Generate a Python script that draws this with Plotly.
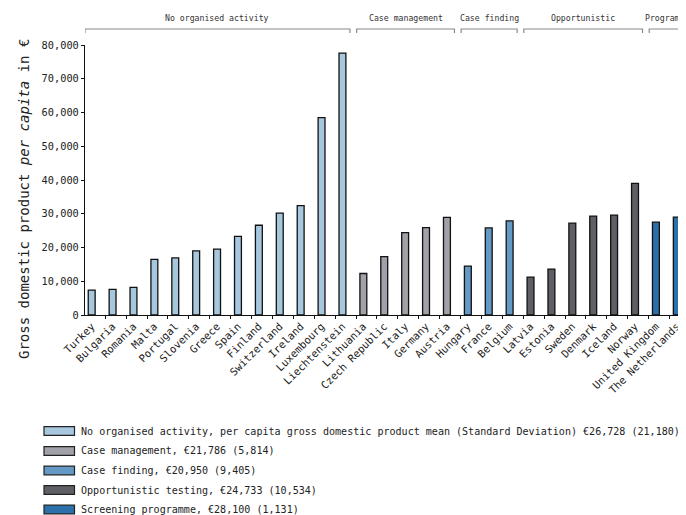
import plotly.graph_objects as go

countries = ["Turkey", "Bulgaria", "Romania", "Malta", "Portugal", "Slovenia", "Greece",
             "Spain", "Finland", "Switzerland", "Ireland", "Luxembourg", "Liechtenstein",
             "Lithuania", "Czech Republic", "Italy", "Germany", "Austria",
             "Hungary", "France", "Belgium",
             "Latvia", "Estonia", "Sweden", "Denmark", "Iceland", "Norway",
             "United Kingdom", "The Netherlands"]
gdp = [7400, 7600, 8200, 16500, 16900, 19000, 19500, 23300, 26600, 30200, 32400, 58500, 77600,
       12300, 17300, 24400, 25900, 28900,
       14500, 25800, 27900,
       11200, 13600, 27200, 29300, 29600, 39000,
       27500, 29000]
group_of = [0] * 13 + [1] * 5 + [2] * 3 + [3] * 6 + [4] * 2
group_titles = ["No organised activity", "Case management", "Case finding",
                "Opportunistic", "Programme"]
legend_labels = [
    "No organised activity, per capita gross domestic product mean (Standard Deviation) €26,728 (21,180)",
    "Case management, €21,786 (5,814)",
    "Case finding, €20,950 (9,405)",
    "Opportunistic testing, €24,733 (10,534)",
    "Screening programme, €28,100 (1,131)",
]
group_colors = ["#a7c7df", "#a1a2a9", "#6499c6", "#5e6066", "#2b70aa"]
y_ticks = [0, 10000, 20000, 30000, 40000, 50000, 60000, 70000, 80000]

MONO = "DejaVu Sans Mono"
OFF = 8  # page body margin
W, H = 686 - OFF, 515 - OFF
L, R, T = 85 - OFF, 0, 45 - OFF
B = H - (315 - OFF)
pw, ph = W - L - R, H - T - B

def px_x(p):
    # page pixel -> paper x
    return (p - OFF - L) / pw

def px_y(p):
    # page pixel -> paper y
    return (H - B - (p - OFF)) / ph

xs = list(range(len(countries)))
fig = go.Figure()
fig.add_trace(go.Bar(
    x=xs, y=gdp, width=0.33,
    marker=dict(color=[group_colors[g] for g in group_of],
                line=dict(color="#111111", width=1.3)),
    showlegend=False, hoverinfo="x+y",
))

shapes = []
annotations = []
# group brackets above the plot
for gi, title in enumerate(group_titles):
    idx = [i for i, g in enumerate(group_of) if g == gi]
    x0, x1 = idx[0] - 0.32, idx[-1] + 0.36
    shapes.append(dict(type="path", xref="x", yref="paper",
                       path=f"M {x0},{px_y(33)} L {x0},{px_y(29)} L {x1},{px_y(29)} L {x1},{px_y(33)}",
                       line=dict(color="#8a8a8a", width=1.2)))
    annotations.append(dict(x=(x0 + x1) / 2, xref="x", y=px_y(18), yref="paper",
                            text=title, showarrow=False, xanchor="center", yanchor="middle",
                            font=dict(family=MONO, size=8.2, color="#333333")))

# legend
rows = [431, 451, 470.5, 490, 509.5]
for color, label, ry in zip(group_colors, legend_labels, rows):
    shapes.append(dict(type="rect", xref="paper", yref="paper",
                       x0=px_x(44), x1=px_x(74.5), y0=px_y(ry + 4.3), y1=px_y(ry - 4.3),
                       fillcolor=color, line=dict(color="#222222", width=1.2)))
    annotations.append(dict(x=px_x(79), xref="paper", y=px_y(ry), yref="paper",
                            text=label, showarrow=False, xanchor="left", yanchor="middle",
                            font=dict(family=MONO, size=10.05, color="#222222")))

# y title
annotations.append(dict(x=px_x(24), xref="paper", y=px_y(199), yref="paper",
                        text="Gross domestic product <i>per capita</i> in €", textangle=-90,
                        showarrow=False, xanchor="center", yanchor="middle",
                        font=dict(family=MONO, size=14, color="#222222")))

fig.update_layout(
    width=W, height=H,
    margin=dict(l=L, r=R, t=T, b=B, pad=0),
    paper_bgcolor="white", plot_bgcolor="white",
    shapes=shapes, annotations=annotations,
    xaxis=dict(range=[-0.32, 28.44], tickvals=xs, ticktext=countries, tickangle=-45,
               ticks="", showgrid=False, zeroline=False,
               showline=True, linecolor="#111111", linewidth=1.3,
               tickfont=dict(family=MONO, size=10.5, color="#222222"),
               minor=dict(tick0=-0.35, dtick=1, ticks="outside", ticklen=3,
                          tickcolor="#111111", tickwidth=1, showgrid=False)),
    yaxis=dict(range=[0, 80000], tickvals=y_ticks, tickformat=",d",
               ticks="outside", ticklen=3, tickcolor="#111111", tickwidth=1,
               showgrid=False, zeroline=False,
               showline=True, linecolor="#111111", linewidth=1.3,
               tickfont=dict(family=MONO, size=10.3, color="#222222")),
)

fig.write_html("out.html")
